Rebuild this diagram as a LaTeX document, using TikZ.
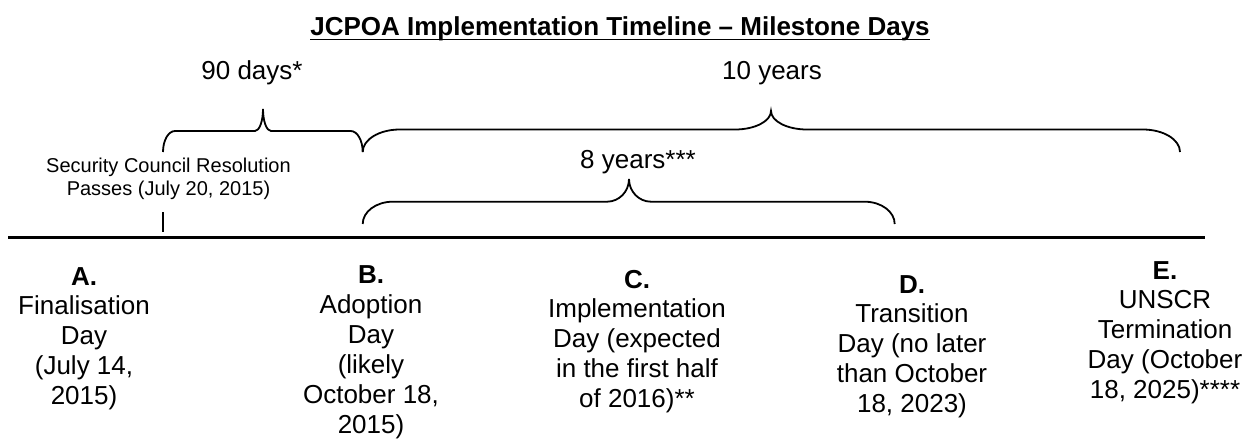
\documentclass[tikz,border=0pt]{standalone}
\usepackage{fontspec}
\setmainfont{Liberation Sans}
\usetikzlibrary{positioning}

\tikzset{
  %% milestone label under the timeline (placed by its last baseline)
  mlbl/.style={anchor=base,align=center,inner sep=0pt,
    font=\fontsize{26}{29.9}\selectfont},
  %% caption of a span brace
  spn/.style={anchor=base,inner sep=0pt,font=\fontsize{26}{29.9}\selectfont},
  %% small side note
  note/.style={anchor=base,align=center,inner sep=0pt,
    font=\fontsize{20}{23}\selectfont},
  %% lines
  brc/.style={line width=1.8pt},
  tline/.style={line width=3.4pt},
}

%% curly span brace: xl, xr, xpeak, ytip, yflat, ypeak, end width, mid width
\newcommand{\spanbrace}[8]{%
  \draw[brc] (#1,#4) .. controls (#1,{#4-0.552*(#4-#5)}) and ({#1+0.448*#7},#5) .. ({#1+#7},#5)
    -- ({#3-#8},#5) .. controls ({#3-0.448*#8},#5) and (#3,{#6+0.552*(#5-#6)}) .. (#3,#6)
    .. controls (#3,{#6+0.552*(#5-#6)}) and ({#3+0.448*#8},#5) .. ({#3+#8},#5)
    -- ({#2-#7},#5) .. controls ({#2-0.448*#7},#5) and (#2,{#4-0.552*(#4-#5)}) .. (#2,#4);}

\begin{document}
\begin{tikzpicture}[x=1pt,y=-1pt]
  \useasboundingbox (0,0) rectangle (1247,440);

  %% Title
  \node[anchor=base,inner sep=0pt,font=\fontsize{26}{30}\selectfont\bfseries]
    (title) at (620,35) {JCPOA Implementation Timeline – Milestone Days};
  \draw[line width=1.9pt] ([yshift=-4.5pt]title.base west) -- ([yshift=-4.5pt]title.base east);

  %% Timeline
  \coordinate (lnL) at (8,237.7);
  \coordinate (lnR) at (1205,237.7);
  \draw[tline] (lnL) -- (lnR);

  %% Resolution tick
  \coordinate (tkT) at (163,212);
  \coordinate (tkB) at (163,232);
  \draw[brc] (tkT) -- (tkB);
  \node[note] (unsc) at (168.5,195.7) {Security Council Resolution\\Passes (July 20, 2015)};

  %% Span braces
  \spanbrace{163}{362.7}{263}{152}{131}{109}{12}{8}
  \spanbrace{362.7}{1180}{771}{152}{129.5}{111}{37}{36}
  \spanbrace{362.7}{894.7}{629}{224}{201.7}{179}{30}{22}

  \node[spn] (d90) at (252,79)    {90 days*};
  \node[spn] (y10) at (772,79)    {10 years};
  \node[spn] (y8)  at (638,168.3) {8 years***};

  %% Milestones
  \node[mlbl] (msA) at (84,404.6)  {\textbf{A.}\\Finalisation\\Day\\(July 14,\\2015)};
  \node[mlbl] (msB) at (371,433)   {\textbf{B.}\\Adoption\\Day\\(likely\\October 18,\\2015)};
  \node[mlbl] (msC) at (637,407.6) {\textbf{C.}\\Implementation\\Day (expected\\in the first half\\of 2016)**};
  \node[mlbl] (msD) at (912,412.6) {\textbf{D.}\\Transition\\Day (no later\\than October\\18, 2023)};
  \node[mlbl] (msE) at (1165,398.6) {\textbf{E.}\\UNSCR\\Termination\\Day (October\\18, 2025)****};

\end{tikzpicture}
\end{document}
